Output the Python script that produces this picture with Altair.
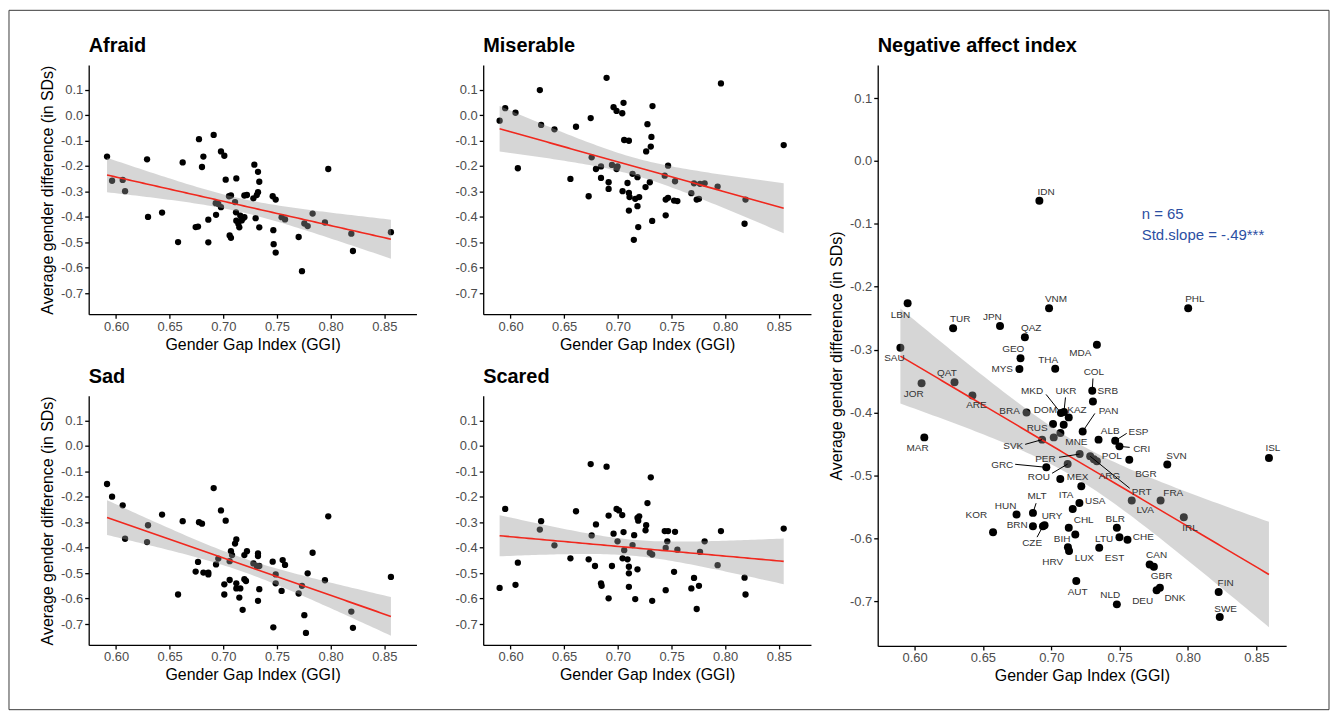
import numpy as np
import pandas as pd
import altair as alt

FONT = "Liberation Sans"
RED = "#f0281e"
BLUE = "#2c4fa3"

# ---------------- small panels ----------------
afraid_ggi = [0.5916, 0.5963, 0.6062, 0.6084, 0.6289, 0.6298, 0.6429, 0.6621, 0.6578, 0.6773,
              0.6814, 0.6801, 0.6910, 0.6978, 0.7009, 0.7022, 0.6929, 0.6953, 0.6932, 0.6860,
              0.6860, 0.6742, 0.6764, 0.6978, 0.7053, 0.7071, 0.7059, 0.7071, 0.7109, 0.7121,
              0.7118, 0.7121, 0.7149, 0.7158, 0.7171, 0.7196, 0.7196, 0.7220, 0.7280, 0.7289,
              0.7323, 0.7335, 0.7323, 0.7311, 0.7301, 0.7335, 0.7460, 0.7488, 0.7466, 0.7469,
              0.7488, 0.7543, 0.7575, 0.7702, 0.7733, 0.7755, 0.7786, 0.7832, 0.7947, 0.7978,
              0.8193, 0.8208, 0.8562, 0.7140, 0.7183]
afraid_val = [-0.163, -0.258, -0.255, -0.299, -0.174, -0.400, -0.383, -0.186, -0.499, -0.095,
              -0.163, -0.204, -0.078, -0.143, -0.160, -0.254, -0.346, -0.349, -0.392, -0.411,
              -0.500, -0.440, -0.438, -0.362, -0.319, -0.316, -0.473, -0.482, -0.342, -0.249,
              -0.382, -0.415, -0.441, -0.395, -0.414, -0.401, -0.316, -0.314, -0.327, -0.195,
              -0.223, -0.262, -0.303, -0.314, -0.405, -0.441, -0.319, -0.332, -0.452, -0.507,
              -0.540, -0.401, -0.410, -0.479, -0.613, -0.426, -0.436, -0.387, -0.422, -0.212,
              -0.466, -0.534, -0.460, -0.427, -0.405]

miserable_ggi = [0.5898, 0.5950, 0.6046, 0.6068, 0.6273, 0.6285, 0.6409, 0.6558, 0.6610, 0.6728,
                 0.6747, 0.6756, 0.6796, 0.6843, 0.6843, 0.6895, 0.6914, 0.6914, 0.6945, 0.6960,
                 0.6988, 0.6997, 0.6988, 0.7041, 0.7053, 0.7044, 0.7059, 0.7103, 0.7090, 0.7103,
                 0.7109, 0.7103, 0.7137, 0.7183, 0.7162, 0.7199, 0.7183, 0.7190, 0.7149, 0.7264,
                 0.7276, 0.7307, 0.7313, 0.7323, 0.7258, 0.7298, 0.7320, 0.7437, 0.7468, 0.7446,
                 0.7468, 0.7446, 0.7533, 0.7524, 0.7555, 0.7685, 0.7710, 0.7735, 0.7756, 0.7766,
                 0.7809, 0.7930, 0.7961, 0.8181, 0.8190, 0.8546]
miserable_val = [-0.022, 0.027, 0.009, -0.209, 0.098, -0.039, -0.056, -0.251, -0.046, -0.319,
                 -0.012, -0.166, -0.212, -0.202, -0.247, 0.146, -0.264, -0.290, -0.196, 0.031,
                 0.016, -0.202, -0.212, 0.007, 0.048, -0.299, -0.098, -0.101, -0.267, -0.306,
                 -0.322, -0.375, -0.231, -0.244, -0.329, -0.322, -0.358, -0.440, -0.490, -0.143,
                 -0.036, -0.124, -0.086, 0.035, -0.283, -0.264, -0.416, -0.238, -0.199, -0.332,
                 -0.325, -0.394, -0.260, -0.336, -0.338, -0.307, -0.268, -0.332, -0.329, -0.270,
                 -0.268, -0.281, 0.124, -0.427, -0.332, -0.118]

sad_ggi = [0.5916, 0.5963, 0.6062, 0.6084, 0.6298, 0.6289, 0.6429, 0.6621, 0.6578, 0.6773,
           0.6801, 0.6764, 0.6742, 0.6814, 0.6860, 0.6860, 0.6910, 0.6978, 0.7022, 0.6953,
           0.6932, 0.7009, 0.7009, 0.7059, 0.7059, 0.7071, 0.7081, 0.7109, 0.7121, 0.7121,
           0.7121, 0.7149, 0.7158, 0.7180, 0.7196, 0.7220, 0.7196, 0.7211, 0.7280, 0.7311,
           0.7323, 0.7323, 0.7335, 0.7323, 0.7335, 0.7460, 0.7488, 0.7488, 0.7466, 0.7553,
           0.7575, 0.7543, 0.7702, 0.7733, 0.7755, 0.7770, 0.7786, 0.7832, 0.7947, 0.7978,
           0.8193, 0.8208, 0.8562]
sad_val = [-0.150, -0.200, -0.234, -0.365, -0.312, -0.378, -0.270, -0.296, -0.584, -0.300,
           -0.306, -0.456, -0.494, -0.498, -0.498, -0.505, -0.166, -0.254, -0.294, -0.443,
           -0.466, -0.544, -0.584, -0.527, -0.453, -0.414, -0.429, -0.384, -0.368, -0.540,
           -0.560, -0.596, -0.560, -0.644, -0.429, -0.414, -0.524, -0.531, -0.462, -0.472,
           -0.423, -0.433, -0.563, -0.609, -0.472, -0.455, -0.505, -0.540, -0.713, -0.449,
           -0.468, -0.570, -0.580, -0.550, -0.665, -0.735, -0.501, -0.420, -0.528, -0.277,
           -0.651, -0.715, -0.515]

scared_ggi = [0.5898, 0.5950, 0.6046, 0.6068, 0.6273, 0.6285, 0.6409, 0.6558, 0.6610, 0.6728,
              0.6747, 0.6756, 0.6796, 0.6787, 0.6843, 0.6849, 0.6895, 0.6914, 0.6914, 0.6945,
              0.6960, 0.6988, 0.7010, 0.6997, 0.7041, 0.7044, 0.7053, 0.7059, 0.7090, 0.7103,
              0.7103, 0.7103, 0.7137, 0.7152, 0.7162, 0.7183, 0.7183, 0.7199, 0.7190, 0.7264,
              0.7258, 0.7276, 0.7307, 0.7298, 0.7320, 0.7320, 0.7437, 0.7468, 0.7461, 0.7446,
              0.7446, 0.7533, 0.7524, 0.7555, 0.7685, 0.7710, 0.7735, 0.7756, 0.7766, 0.7809,
              0.7930, 0.7961, 0.8181, 0.8190, 0.8546]
scared_val = [-0.558, -0.248, -0.546, -0.459, -0.329, -0.296, -0.391, -0.442, -0.257, -0.446,
              -0.072, -0.352, -0.309, -0.472, -0.540, -0.550, -0.082, -0.274, -0.599, -0.472,
              -0.345, -0.248, -0.254, -0.375, -0.272, -0.442, -0.339, -0.410, -0.446, -0.475,
              -0.501, -0.554, -0.390, -0.351, -0.602, -0.485, -0.283, -0.277, -0.294, -0.312,
              -0.332, -0.225, -0.124, -0.420, -0.427, -0.609, -0.335, -0.335, -0.375, -0.401,
              -0.567, -0.338, -0.495, -0.408, -0.560, -0.519, -0.641, -0.550, -0.417, -0.375,
              -0.469, -0.335, -0.518, -0.584, -0.325]

# ---------------- negative affect index panel ----------------
countries = ["IDN", "LBN", "TUR", "JPN", "VNM", "QAZ", "PHL", "GEO", "MDA", "SAU",
             "THA", "MYS", "COL", "SRB", "QAT", "JOR", "ARE", "MAR", "BRA", "MKD",
             "UKR", "KAZ", "DOM", "RUS", "", "SVK", "MNE", "PER", "POL", "PRT",
             "ARG", "PAN", "ALB", "ESP", "CRI", "BGR", "SVN", "ISL", "FRA", "LVA",
             "IRL", "BLR", "CHE", "LTU", "EST", "CAN", "GBR", "DEU", "DNK", "FIN",
             "SWE", "NLD", "AUT", "LUX", "HRV", "BIH", "CHL", "USA", "ITA", " ",
             "MEX", "ROU", "GRC", "HUN", "MLT", "BRN", "URY", "CZE", "KOR"]
affect_ggi = [0.6913, 0.5949, 0.6282, 0.6625, 0.6984, 0.6807, 0.8002, 0.6775, 0.7334, 0.5896,
              0.7029, 0.6767, 0.7300, 0.7305, 0.6292, 0.6051, 0.6423, 0.6071, 0.6819, 0.7071,
              0.7093, 0.7128, 0.7091, 0.7013, 0.7018, 0.6933, 0.7067, 0.7208, 0.7334, 0.7285,
              0.7312, 0.7230, 0.7346, 0.7468, 0.7499, 0.7571, 0.7849, 0.8593, 0.7800, 0.7589,
              0.7970, 0.7480, 0.7558, 0.7499, 0.7351, 0.7720, 0.7751, 0.7771, 0.7795, 0.8225,
              0.8233, 0.7480, 0.7183, 0.7130, 0.7122, 0.7176, 0.7128, 0.7206, 0.7220, 0.7157,
              0.7066, 0.7120, 0.6964, 0.6746, 0.6866, 0.6866, 0.6951, 0.6939, 0.6574]
affect_val = [-0.0635, -0.2265, -0.2662, -0.2624, -0.2344, -0.2805, -0.2344, -0.3138, -0.2925, -0.2973,
              -0.3306, -0.3310, -0.3656, -0.3825, -0.3519, -0.3535, -0.3730, -0.4397, -0.4000, -0.4011,
              -0.3992, -0.4079, -0.4195, -0.4186, -0.4397, -0.4433, -0.4329, -0.4662, -0.4778, -0.4698,
              -0.4746, -0.4302, -0.4433, -0.4449, -0.4540, -0.4754, -0.4830, -0.4725, -0.5402, -0.5402,
              -0.5667, -0.5836, -0.6024, -0.5984, -0.6154, -0.6418, -0.6456, -0.6830, -0.6789, -0.6857,
              -0.7254, -0.7053, -0.6683, -0.6206, -0.6143, -0.5942, -0.5836, -0.5440, -0.5175, -0.5535,
              -0.5059, -0.4821, -0.4873, -0.5624, -0.5598, -0.5810, -0.5794, -0.5810, -0.5905]
label_x = [0.6962, 0.5896, 0.6333, 0.6569, 0.7035, 0.6853, 0.8051, 0.6722, 0.7212, 0.5852,
           0.6977, 0.6641, 0.7312, 0.7414, 0.6236, 0.5993, 0.6452, 0.6022, 0.6695, 0.6860,
           0.7108, 0.7188, 0.6957, 0.6897, 0.7018, 0.6722, 0.7184, 0.6957, 0.7443, 0.7662,
           0.7426, 0.7419, 0.7431, 0.7638, 0.7662, 0.7693, 0.7917, 0.8622, 0.7893, 0.7687,
           0.8015, 0.7468, 0.7674, 0.7387, 0.7463, 0.7771, 0.7807, 0.7669, 0.7905, 0.8276,
           0.8276, 0.7431, 0.7193, 0.7242, 0.7011, 0.7079, 0.7237, 0.7322, 0.7108, 0.7157,
           0.7193, 0.6909, 0.6641, 0.6666, 0.6896, 0.6751, 0.7006, 0.6860, 0.6452]
label_y = [-0.0492, -0.2449, -0.2508, -0.2476, -0.2202, -0.2662, -0.2202, -0.2995, -0.3063, -0.3138,
           -0.3164, -0.3317, -0.3365, -0.3656, -0.3376, -0.3710, -0.3889, -0.4567, -0.3973, -0.3667,
           -0.3667, -0.3957, -0.3957, -0.4254, -0.4397, -0.4540, -0.4476, -0.4735, -0.4698, -0.5265,
           -0.5016, -0.3984, -0.4290, -0.4317, -0.4576, -0.4979, -0.4698, -0.4567, -0.5281, -0.5560,
           -0.5836, -0.5688, -0.5979, -0.6011, -0.6313, -0.6270, -0.6603, -0.7000, -0.6957, -0.6709,
           -0.7122, -0.6905, -0.6852, -0.6313, -0.6376, -0.6011, -0.5719, -0.5402, -0.5317, -0.5535,
           -0.5027, -0.5027, -0.4830, -0.5492, -0.5333, -0.5794, -0.5651, -0.6075, -0.5624]
leader_country = ["COL", "MKD", "UKR", "SVK", "PER", "PRT", "PAN", "ESP", "CRI", "ROU", "GRC", "MLT", "CZE"]
leader_x = [0.7305, 0.6962, 0.7104, 0.6809, 0.7057, 0.7574, 0.7319, 0.7552, 0.7574, 0.7006, 0.6736, 0.6889, 0.6896]
leader_y = [-0.3460, -0.3714, -0.3762, -0.4508, -0.4714, -0.5206, -0.4016, -0.4333, -0.4556, -0.4968, -0.4825, -0.5444, -0.5984]

annotation_text = ["n = 65", "Std.slope = -.49***"]
annotation_x = [0.7662, 0.7662]
annotation_y = [-0.0837, -0.1180]

panel_titles = ["Afraid", "Miserable", "Sad", "Scared", "Negative affect index"]
x_ticks = [0.60, 0.65, 0.70, 0.75, 0.80, 0.85]
y_ticks = [0.1, 0.0, -0.1, -0.2, -0.3, -0.4, -0.5, -0.6, -0.7]

X_TITLE = "Gender Gap Index (GGI)"
Y_TITLE = "Average gender difference (in SDs)"
Y_LABEL = "replace(format(datum.value, '.1f'), '\u2212', '-')"

SMALL_W, SMALL_H = 329, 250
BIG_W, BIG_H = 410, 583


def fit_band(xs, ys, n_grid=80):
    x = np.asarray(xs, dtype=float)
    y = np.asarray(ys, dtype=float)
    n = len(x)
    b, a = np.polyfit(x, y, 1)
    xg = np.linspace(x.min(), x.max(), n_grid)
    yhat = a + b * xg
    resid = y - (a + b * x)
    s = np.sqrt(np.sum(resid ** 2) / (n - 2))
    sxx = np.sum((x - x.mean()) ** 2)
    se = s * np.sqrt(1.0 / n + (xg - x.mean()) ** 2 / sxx)
    t = 1.998
    return pd.DataFrame({"ggi": xg, "fit": yhat, "lo": yhat - t * se, "hi": yhat + t * se})


def title_layer(text):
    return alt.Chart(pd.DataFrame({"t": [text]})).mark_text(
        font=FONT, fontSize=20, fontWeight="bold", color="black", align="left",
        baseline="alphabetic").encode(x=alt.value(0), y=alt.value(-13), text="t:N")


def small_panel(name, xs, ys, with_y_title):
    pts = pd.DataFrame({"ggi": xs, "val": ys})
    band = fit_band(xs, ys)
    xsc = alt.Scale(domain=[0.5745, 0.8800], nice=False, zero=False)
    ysc = alt.Scale(domain=[-0.782, 0.196], nice=False, zero=False)
    xax = alt.Axis(values=x_ticks, format=".2f", title=X_TITLE, labelOverlap=False)
    if with_y_title:
        yax = alt.Axis(values=y_ticks, labelExpr=Y_LABEL, title=Y_TITLE, labelOverlap=False)
    else:
        yax = alt.Axis(values=y_ticks, labelExpr=Y_LABEL, title=None, labelOverlap=False)
    p = alt.Chart(pts).mark_circle(size=40, color="black", opacity=1).encode(
        x=alt.X("ggi:Q", scale=xsc, axis=xax),
        y=alt.Y("val:Q", scale=ysc, axis=yax))
    b = alt.Chart(band).mark_area(color="#999999", opacity=0.4).encode(
        x=alt.X("ggi:Q", scale=xsc, axis=xax),
        y=alt.Y("lo:Q", scale=ysc, axis=yax), y2="hi:Q")
    l = alt.Chart(band).mark_line(color=RED, strokeWidth=1.6).encode(
        x=alt.X("ggi:Q", scale=xsc, axis=xax),
        y=alt.Y("fit:Q", scale=ysc, axis=yax))
    return alt.layer(p, b, l, title_layer(name)).properties(width=SMALL_W, height=SMALL_H)


afraid = small_panel(panel_titles[0], afraid_ggi, afraid_val, True)
miserable = small_panel(panel_titles[1], miserable_ggi, miserable_val, False)
sad = small_panel(panel_titles[2], sad_ggi, sad_val, True)
scared = small_panel(panel_titles[3], scared_ggi, scared_val, False)

# ---------------- big panel ----------------
big_pts = pd.DataFrame({"country": countries, "ggi": affect_ggi, "val": affect_val,
                        "lx": label_x, "ly": label_y})
lead = pd.DataFrame({"country": leader_country, "lead_x": leader_x, "lead_y": leader_y}).merge(
    big_pts[["country", "ggi", "val"]], on="country")
big_band = fit_band(affect_ggi, affect_val)
ann = pd.DataFrame({"t": annotation_text, "ax": annotation_x, "ay": annotation_y})

# the big panel occupies one grid row of the small height; its y range is stretched
# over both rows and its x axis is moved down to the bottom of that range
bxs = alt.Scale(domain=[0.5730, 0.8719], nice=False, zero=False)
bys = alt.Scale(domain=[-0.7714, 0.1524], nice=False, zero=False, range=[BIG_H, 0])
bxa = alt.Axis(values=x_ticks, format=".2f", title=X_TITLE, labelOverlap=False,
               offset=BIG_H - SMALL_H)
bya = alt.Axis(values=y_ticks, labelExpr=Y_LABEL, title=Y_TITLE, labelOverlap=False)

bp = alt.Chart(big_pts).mark_circle(size=64, color="black", opacity=1).encode(
    x=alt.X("ggi:Q", scale=bxs, axis=bxa), y=alt.Y("val:Q", scale=bys, axis=bya))
bb = alt.Chart(big_band).mark_area(color="#999999", opacity=0.4).encode(
    x=alt.X("ggi:Q", scale=bxs, axis=bxa), y=alt.Y("lo:Q", scale=bys, axis=bya), y2="hi:Q")
bl = alt.Chart(big_band).mark_line(color=RED, strokeWidth=1.6).encode(
    x=alt.X("ggi:Q", scale=bxs, axis=bxa), y=alt.Y("fit:Q", scale=bys, axis=bya))
br = alt.Chart(lead).mark_rule(color="black", strokeWidth=1).encode(
    x=alt.X("lead_x:Q", scale=bxs, axis=bxa), y=alt.Y("lead_y:Q", scale=bys, axis=bya),
    x2="ggi:Q", y2="val:Q")
bt = alt.Chart(big_pts).mark_text(font=FONT, fontSize=10, color="#333333",
                                  align="center", baseline="middle").encode(
    x=alt.X("lx:Q", scale=bxs, axis=bxa), y=alt.Y("ly:Q", scale=bys, axis=bya), text="country:N")
ba = alt.Chart(ann).mark_text(font=FONT, fontSize=15, color=BLUE,
                              align="left", baseline="middle").encode(
    x=alt.X("ax:Q", scale=bxs, axis=bxa), y=alt.Y("ay:Q", scale=bys, axis=bya), text="t:N")
frame = alt.Chart(pd.DataFrame({"k": [0]})).mark_rect(
    fillOpacity=0, stroke="#3c3c3c", strokeWidth=1).encode(
    x=alt.value(-872), x2=alt.value(453), y=alt.value(-55), y2=alt.value(647))

big = alt.layer(frame, bp, bb, bl, br, bt, ba, title_layer(panel_titles[4])).properties(
    width=BIG_W, height=SMALL_H)

chart = alt.concat(
    afraid, miserable, big, sad, scared,
    columns=3, spacing=alt.RowColnumber(column=67, row=82),
    bounds="flush", align="none",
).properties(padding=0).configure_view(strokeWidth=0).configure_axis(
    domainColor="black", domainWidth=1.3, tickColor="black", tickWidth=1.3, tickSize=4,
    labelColor="#4d4d4d", labelFont=FONT, labelFontSize=13, labelPadding=2,
    titleFont=FONT, titleFontSize=16, titleFontWeight="normal", titleColor="black",
    grid=False,
).configure_axisX(titlePadding=3).configure_axisY(titlePadding=5)

chart.save("out.html", embed_options={"renderer": "svg", "actions": False})
